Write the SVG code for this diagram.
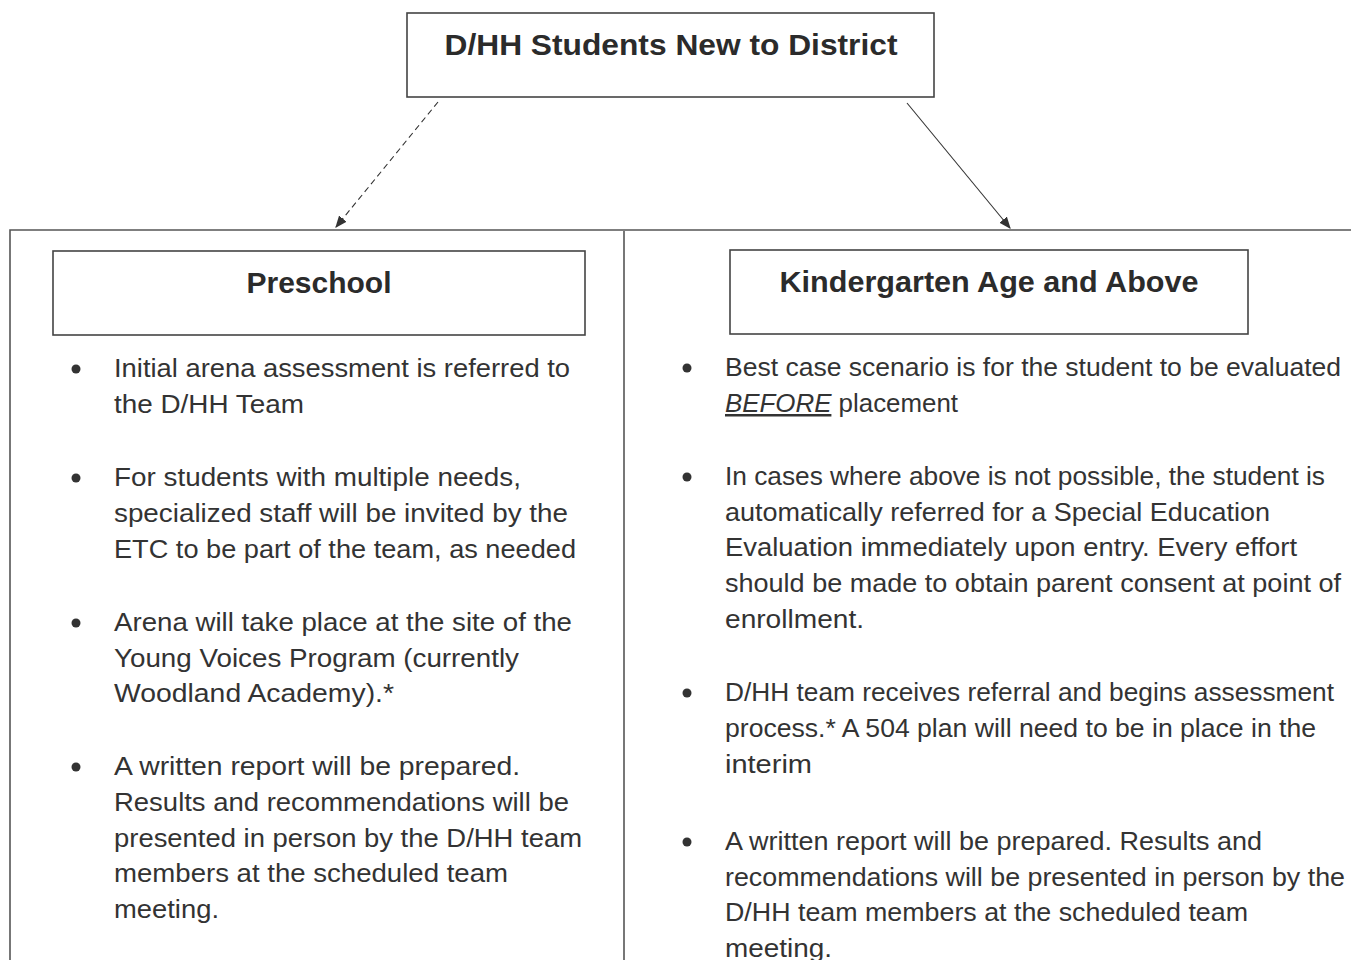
<svg xmlns="http://www.w3.org/2000/svg" width="1351" height="960" viewBox="0 0 1351 960">
<style>
.box{fill:#fff;stroke:#444;stroke-width:1.6}
.frame{fill:none;stroke:#555;stroke-width:1.6}
.h{font-family:"Liberation Sans",Arial,sans-serif;font-weight:bold;font-size:29px;fill:#2b2b2b;text-anchor:middle}
.t{font-family:"Liberation Sans",Arial,sans-serif;font-size:25px;fill:#333}
.b{fill:#333}
.conn{stroke:#333;stroke-width:1.1;fill:none}
</style>
<defs>
<marker id="ah" viewBox="0 0 10 10" refX="9" refY="5" markerWidth="12" markerHeight="12" orient="auto" markerUnits="userSpaceOnUse">
<path d="M0,1 L10,5 L0,9 Z" fill="#333"/>
</marker>
</defs>
<rect width="1351" height="960" fill="#fff"/>

<g id="connectors">
<line class="conn" x1="438" y1="102" x2="336" y2="227" stroke-dasharray="6,4" marker-end="url(#ah)"/>
<line class="conn" x1="907" y1="103" x2="1010" y2="228" marker-end="url(#ah)"/>
</g>

<g id="frame">
<path class="frame" d="M10,960 L10,230 L1351,230"/>
<line class="frame" x1="624" y1="231" x2="624" y2="960"/>
</g>

<g id="top">
<rect class="box" x="407" y="13" width="527" height="84"/>
<text class="h" x="671" y="55" textLength="453" lengthAdjust="spacingAndGlyphs">D/HH Students New to District</text>
</g>

<g id="preschool">
<rect class="box" x="53" y="251" width="532" height="84"/>
<text class="h" x="319" y="293" textLength="145" lengthAdjust="spacingAndGlyphs">Preschool</text>
</g>

<g id="kindergarten">
<rect class="box" x="730" y="250" width="518" height="84"/>
<text class="h" x="989" y="292" textLength="419" lengthAdjust="spacingAndGlyphs">Kindergarten Age and Above</text>
</g>

<g id="preschool-list">
<circle class="b" cx="76" cy="369" r="4.5"/>
<circle class="b" cx="76" cy="478" r="4.5"/>
<circle class="b" cx="76" cy="623" r="4.5"/>
<circle class="b" cx="76" cy="767" r="4.5"/>
<text class="t" x="114" y="377" textLength="456" lengthAdjust="spacingAndGlyphs">Initial arena assessment is referred to</text>
<text class="t" x="114" y="413" textLength="190" lengthAdjust="spacingAndGlyphs">the D/HH Team</text>
<text class="t" x="114" y="486" textLength="407" lengthAdjust="spacingAndGlyphs">For students with multiple needs,</text>
<text class="t" x="114" y="522" textLength="454" lengthAdjust="spacingAndGlyphs">specialized staff will be invited by the</text>
<text class="t" x="114" y="558" textLength="462" lengthAdjust="spacingAndGlyphs">ETC to be part of the team, as needed</text>
<text class="t" x="114" y="631" textLength="458" lengthAdjust="spacingAndGlyphs">Arena will take place at the site of the</text>
<text class="t" x="114" y="667" textLength="405" lengthAdjust="spacingAndGlyphs">Young Voices Program (currently</text>
<text class="t" x="114" y="702" textLength="280" lengthAdjust="spacingAndGlyphs">Woodland Academy).*</text>
<text class="t" x="114" y="775" textLength="406" lengthAdjust="spacingAndGlyphs">A written report will be prepared.</text>
<text class="t" x="114" y="811" textLength="455" lengthAdjust="spacingAndGlyphs">Results and recommendations will be</text>
<text class="t" x="114" y="847" textLength="468" lengthAdjust="spacingAndGlyphs">presented in person by the D/HH team</text>
<text class="t" x="114" y="882" textLength="394" lengthAdjust="spacingAndGlyphs">members at the scheduled team</text>
<text class="t" x="114" y="918" textLength="105" lengthAdjust="spacingAndGlyphs">meeting.</text>
</g>

<g id="kindergarten-list">
<circle class="b" cx="687" cy="368" r="4.5"/>
<circle class="b" cx="687" cy="477" r="4.5"/>
<circle class="b" cx="687" cy="693" r="4.5"/>
<circle class="b" cx="687" cy="842" r="4.5"/>
<text class="t" x="725" y="376" textLength="616" lengthAdjust="spacingAndGlyphs">Best case scenario is for the student to be evaluated</text>
<text class="t" x="725" y="412" textLength="233" lengthAdjust="spacingAndGlyphs"><tspan font-style="italic" text-decoration="underline">BEFORE</tspan> placement</text>
<text class="t" x="725" y="485" textLength="600" lengthAdjust="spacingAndGlyphs">In cases where above is not possible, the student is</text>
<text class="t" x="725" y="521" textLength="545" lengthAdjust="spacingAndGlyphs">automatically referred for a Special Education</text>
<text class="t" x="725" y="556" textLength="572" lengthAdjust="spacingAndGlyphs">Evaluation immediately upon entry. Every effort</text>
<text class="t" x="725" y="592" textLength="616" lengthAdjust="spacingAndGlyphs">should be made to obtain parent consent at point of</text>
<text class="t" x="725" y="628" textLength="139" lengthAdjust="spacingAndGlyphs">enrollment.</text>
<text class="t" x="725" y="701" textLength="609" lengthAdjust="spacingAndGlyphs">D/HH team receives referral and begins assessment</text>
<text class="t" x="725" y="737" textLength="591" lengthAdjust="spacingAndGlyphs">process.* A 504 plan will need to be in place in the</text>
<text class="t" x="725" y="773" textLength="87" lengthAdjust="spacingAndGlyphs">interim</text>
<text class="t" x="725" y="850" textLength="537" lengthAdjust="spacingAndGlyphs">A written report will be prepared. Results and</text>
<text class="t" x="725" y="886" textLength="620" lengthAdjust="spacingAndGlyphs">recommendations will be presented in person by the</text>
<text class="t" x="725" y="921" textLength="523" lengthAdjust="spacingAndGlyphs">D/HH team members at the scheduled team</text>
<text class="t" x="725" y="957" textLength="107" lengthAdjust="spacingAndGlyphs">meeting.</text>
</g>
</svg>
